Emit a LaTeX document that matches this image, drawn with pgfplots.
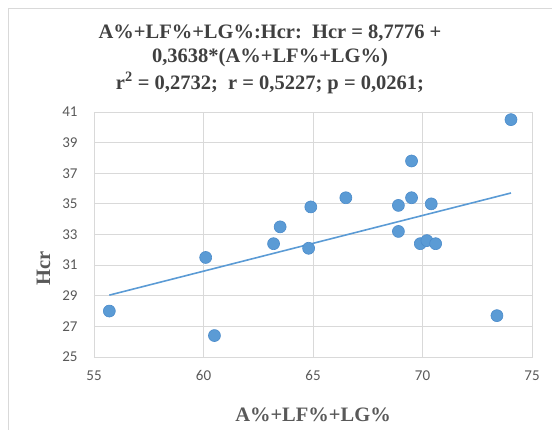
\documentclass[border=0pt]{standalone}
\usepackage{pgfplots}
\pgfplotsset{compat=1.18}
\usepackage{fontspec}
\setmainfont{Liberation Serif}
\newfontfamily\carlito{Carlito}
\definecolor{xlblue}{HTML}{5B9BD5}
\definecolor{xledge}{HTML}{4C8CCB}
\definecolor{gridc}{HTML}{D9D9D9}
\definecolor{tickc}{HTML}{595959}
\definecolor{titc}{HTML}{404040}
\begin{document}
\begin{tikzpicture}
\useasboundingbox (0pt,0pt) rectangle (552pt,430pt);
\draw[gridc, line width=0.8pt] (8pt,-5pt) -- (8pt,422pt) -- (560pt,422pt);
\node[font=\bfseries\fontsize{20.5}{20.5}\selectfont, text=titc] at (270pt,397pt) {A\%+LF\%+LG\%:Hcr:\ \ Hcr = 8,7776 +};
\node[font=\bfseries\fontsize{20.5}{20.5}\selectfont, text=titc] at (270pt,372pt) {0,3638*(A\%+LF\%+LG\%)};
\node[font=\bfseries\fontsize{20.5}{20.5}\selectfont, text=titc] at (270pt,347pt) {r\textsuperscript{2} = 0,2732;\ \ r = 0,5227; p = 0,0261;};
\begin{axis}[
  at={(94pt,73pt)}, anchor=south west,
  scale only axis, width=438pt, height=245pt,
  xmin=55, xmax=75, ymin=25, ymax=41,
  xtick={55,60,...,75}, ytick={25,27,...,41},
  grid=major, major grid style={gridc, line width=0.8pt},
  axis line style={gridc, line width=0.8pt},
  tick style={draw=none},
  /pgf/number format/assume math mode=true,
  ticklabel style={font=\carlito\fontsize{15}{15}\selectfont, text=tickc},
  xticklabel style={yshift=-10pt},
  yticklabel style={xshift=-13pt},
  xlabel={A\%+LF\%+LG\%},
  ylabel={Hcr},
  label style={font=\bfseries\fontsize{20.5}{20.5}\selectfont, text=tickc},
  xlabel style={at={(ticklabel cs:0.5)}, anchor=north, yshift=-20pt},
  ylabel style={at={(ticklabel cs:0.36)}, anchor=south, yshift=5pt},
]
\addplot[only marks, mark=*, mark size=6pt, mark options={fill=xlblue, draw=xledge, line width=0.6pt}] coordinates {
(74.04,40.5) (69.5,37.8) (66.5,35.4) (69.5,35.4) (68.9,34.9) (70.4,35.0)
(64.9,34.8) (63.5,33.5) (68.9,33.2) (63.2,32.4) (64.8,32.1) (69.9,32.4)
(70.2,32.6) (70.6,32.4) (60.1,31.5) (55.7,28.0) (60.5,26.4) (73.4,27.7)
};
\addplot[xlblue, line width=1.6pt] coordinates {(55.7,29.04) (74.04,35.71)};
\end{axis}
\end{tikzpicture}
\end{document}
